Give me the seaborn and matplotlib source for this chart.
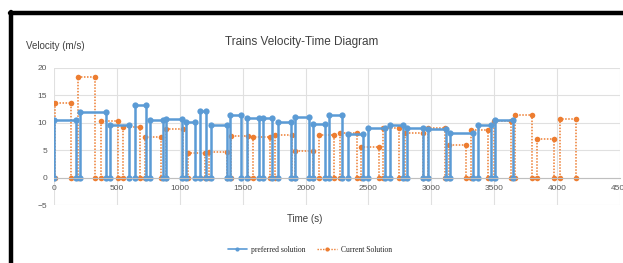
import pandas as pd
import matplotlib.pyplot as plt
import seaborn as sns
from matplotlib.lines import Line2D

sns.set_theme(style="white")
plt.rcParams['font.family'] = ['Liberation Sans', 'DejaVu Sans']

# Block data: departure time, arrival time, cruising velocity
pref_start = [0, 206, 442, 643, 767, 894, 1050, 1159, 1251, 1397, 1534, 1661,
              1780, 1918, 2063, 2185, 2336, 2500, 2675, 2804, 2971, 3148, 3368, 3508]
pref_end = [177, 415, 595, 735, 868, 1018, 1119, 1212, 1376, 1489, 1629, 1735,
            1881, 2026, 2151, 2291, 2460, 2635, 2772, 2931, 3117, 3328, 3474, 3646]
pref_v = [10.6, 12.0, 9.6, 13.3, 10.5, 10.7, 10.1, 12.1, 9.6, 11.5, 10.9, 10.9,
          10.2, 11.1, 9.8, 11.5, 7.9, 9.0, 9.6, 9.1, 8.9, 8.2, 9.6, 10.6]

cur_start = [5, 193, 376, 545, 722, 894, 1064, 1230, 1410, 1580, 1754, 1920,
             2103, 2270, 2442, 2614, 2794, 2971, 3143, 3315, 3500, 3667, 3844, 4024]
cur_end = [135, 323, 508, 680, 852, 1026, 1198, 1375, 1542, 1718, 1889, 2056,
           2230, 2407, 2582, 2746, 2931, 3109, 3275, 3447, 3632, 3799, 3976, 4150]
cur_v = [13.7, 18.3, 10.3, 9.2, 7.4, 8.8, 4.4, 4.6, 7.6, 7.5, 7.7, 4.8,
         7.8, 8.2, 5.5, 9.1, 8.1, 9.0, 5.9, 8.6, 10.3, 11.5, 7.1, 10.7]

PREF = "preferred solution"
CUR = "Current Solution"


def build(name, starts, ends, vs):
    rows = []
    for i, (a, b, v) in enumerate(zip(starts, ends, vs)):
        for t, y in [(a, 0), (a, v), (b, v), (b, 0)]:
            rows.append({"t": t, "v": y, "series": name, "block": f"{name}-{i}"})
    return rows


df = pd.DataFrame(build(PREF, pref_start, pref_end, pref_v) +
                  build(CUR, cur_start, cur_end, cur_v))

fig = plt.figure(figsize=(6.23, 2.63), dpi=100)
ax = fig.add_axes([54 / 623, 1 - 205 / 263, (620 - 54) / 623, (205 - 68) / 263])

ax.grid(True, color="#e0e0e0", linewidth=0.8)
ax.set_axisbelow(True)

# draw the current solution first so the blue sits on top
sns.lineplot(data=df[df.series == CUR], x="t", y="v", units="block",
             estimator=None, sort=False, color="#ED7D31", linestyle=(0, (1, 1)),
             linewidth=1.1, marker="o", markersize=4, markeredgewidth=0, ax=ax)
sns.lineplot(data=df[df.series == PREF], x="t", y="v", units="block",
             estimator=None, sort=False, color="#5B9BD5", linestyle="-",
             linewidth=1.8, marker="o", markersize=4.5, markeredgewidth=0, ax=ax)

ax.set_xlim(0, 4500)
ax.set_ylim(-5, 20)
ax.set_xticks(range(0, 4501, 500))
ax.set_yticks(range(-5, 21, 5))
for s in ["top", "right", "left"]:
    ax.spines[s].set_visible(False)
ax.spines["bottom"].set_position(("data", 0))
ax.spines["bottom"].set_color("#bfbfbf")
ax.spines["bottom"].set_linewidth(0.8)
ax.tick_params(axis="both", length=0, labelsize=6, colors="#595959", pad=5)
ax.set_xlabel("")
ax.set_ylabel("")

fig.text(302 / 623, 1 - 42 / 263, "Trains Velocity-Time Diagram", ha="center",
         va="center", fontsize=8.5, color="#404040")
fig.text(26 / 623, 1 - 46 / 263, "Velocity (m/s)", ha="left", va="center",
         fontsize=7, color="#404040")
fig.text(305 / 623, 1 - 219 / 263, "Time (s)", ha="center", va="center",
         fontsize=7, color="#404040")

handles = [
    Line2D([], [], color="#5B9BD5", linestyle="-", linewidth=1.2, marker="o",
           markersize=3, markeredgewidth=0),
    Line2D([], [], color="#ED7D31", linestyle=(0, (1, 1)), linewidth=1.0,
           marker="o", markersize=3, markeredgewidth=0),
]
fig.legend(handles, [PREF, CUR], loc="center", bbox_to_anchor=(310 / 623, 1 - 250 / 263),
           ncol=2, frameon=False, prop={"family": "Liberation Serif", "size": 5.5},
           handlelength=2.5, columnspacing=1.5, handletextpad=0.6)

# black frame around the picture (top and left edges)
fig.add_artist(Line2D([10 / 623, 1], [1 - 13 / 263, 1 - 13 / 263],
                      transform=fig.transFigure, color="black", linewidth=3.2))
fig.add_artist(Line2D([11 / 623, 11 / 623], [0, 1 - 12 / 263],
                      transform=fig.transFigure, color="black", linewidth=3.2))

fig.savefig("out.png", dpi=100)
